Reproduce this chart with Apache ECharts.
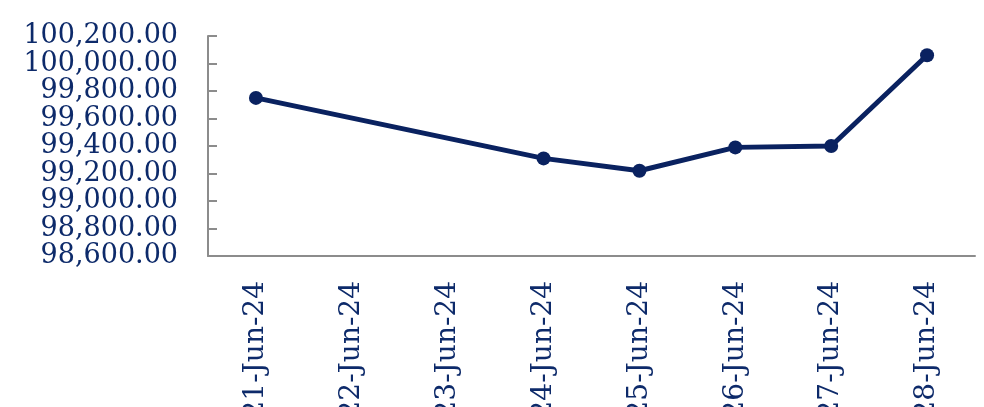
<!DOCTYPE html>
<html>
<head>
<meta charset="utf-8">
<script src="https://cdn.jsdelivr.net/npm/echarts@6/dist/echarts.min.js"></script>
<style>
  html, body { margin: 0; padding: 0; background: #fff; }
  #main { width: 984px; height: 407px; }
</style>
</head>
<body>
<div id="main"></div>
<script>
// 日期（类目）
var dates = ['21-Jun-24', '22-Jun-24', '23-Jun-24', '24-Jun-24', '25-Jun-24', '26-Jun-24', '27-Jun-24', '28-Jun-24'];
// 数值，周末无数据
var values = [99750, null, null, 99310, 99220, 99390, 99400, 100060];
// Y轴范围
var yMin = 98600, yMax = 100200, yStep = 200;

var navy = '#0a2260';
var txt = '#0d2a6a';
var fontName = 'DejaVu Serif';

var myChart = echarts.init(document.getElementById('main'));
var option = {
    animation: false,
    grid: { left: 208, right: 9, top: 36, bottom: 151, containLabel: false, outerBoundsMode: 'none' },
    xAxis: {
        type: 'category',
        data: dates,
        boundaryGap: true,
        axisLine: { lineStyle: { color: '#8c8c8c', width: 2 } },
        axisTick: { inside: true, length: 9, lineStyle: { color: '#8c8c8c', width: 2 } },
        axisLabel: {
            rotate: 90,
            margin: 25,
            color: txt,
            fontFamily: fontName,
            fontSize: 28,
            interval: 0
        },
        splitLine: { show: false }
    },
    yAxis: {
        type: 'value',
        min: yMin,
        max: yMax,
        interval: yStep,
        axisLine: { show: true, lineStyle: { color: '#8c8c8c', width: 2 } },
        axisTick: { show: true, inside: true, length: 9, lineStyle: { color: '#8c8c8c', width: 2 } },
        axisLabel: {
            margin: 30,
            color: txt,
            fontFamily: fontName,
            fontSize: 27,
            formatter: function (v) {
                return v.toLocaleString('en-US', { minimumFractionDigits: 2, maximumFractionDigits: 2 });
            }
        },
        splitLine: { show: false }
    },
    series: [{
        type: 'line',
        data: values,
        connectNulls: true,
        symbol: 'circle',
        symbolSize: 14,
        lineStyle: { color: navy, width: 5 },
        itemStyle: { color: navy }
    }]
};
myChart.setOption(option);
</script>
</body>
</html>
